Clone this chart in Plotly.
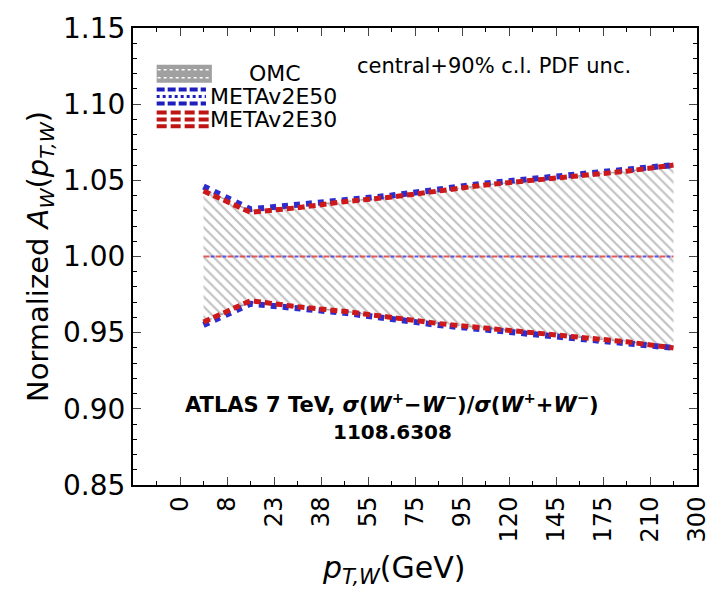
import plotly.graph_objects as go

# pT,W bin edges (GeV), shown as equally spaced category ticks
pt_edges = ["0", "8", "23", "38", "55", "75", "95", "120", "145", "175", "210", "300"]

# normalized asymmetry band limits per bin (11 bins)
omc_up = [1.044, 1.030, 1.033, 1.036, 1.039, 1.043, 1.047, 1.050, 1.053, 1.056, 1.059]
omc_lo = [0.957, 0.970, 0.967, 0.964, 0.960, 0.956, 0.953, 0.950, 0.947, 0.944, 0.941]
e50_up = [1.046, 1.031, 1.034, 1.037, 1.040, 1.044, 1.048, 1.051, 1.054, 1.057, 1.060]
e50_lo = [0.955, 0.969, 0.966, 0.963, 0.959, 0.955, 0.952, 0.949, 0.946, 0.943, 0.940]
e30_up = [1.043, 1.029, 1.032, 1.036, 1.039, 1.043, 1.047, 1.050, 1.053, 1.056, 1.060]
e30_lo = [0.957, 0.971, 0.967, 0.964, 0.960, 0.956, 0.953, 0.950, 0.947, 0.944, 0.940]
central = [1.0] * 11

tick_pos = list(range(len(pt_edges)))
x = [i + 0.5 for i in range(len(pt_edges) - 1)]

FONT = "DejaVu Sans, Liberation Sans, sans-serif"
fig = go.Figure()

# OMC hatched band
fig.add_trace(go.Scatter(x=x, y=omc_lo, mode="lines",
                         line=dict(color="rgba(150,150,150,0.8)", width=1.5, dash="dash"),
                         showlegend=False, hoverinfo="skip"))
fig.add_trace(go.Scatter(x=x, y=omc_up, mode="lines", fill="tonexty",
                         fillcolor="rgba(255,255,255,0)",
                         fillpattern=dict(shape="\\", fgcolor="rgb(130,130,130)",
                                          bgcolor="rgba(255,255,255,0)", size=7, solidity=0.3),
                         line=dict(color="rgba(150,150,150,0.8)", width=1.5, dash="dash"),
                         showlegend=False, hoverinfo="skip"))

# METAv2E50 edges (blue)
for ys in (e50_up, e50_lo):
    fig.add_trace(go.Scatter(x=x, y=ys, mode="lines",
                             line=dict(color="rgb(45,45,205)", width=6, dash="dot"),
                             showlegend=False, hoverinfo="skip"))
# METAv2E30 edges (red)
for ys in (e30_up, e30_lo):
    fig.add_trace(go.Scatter(x=x, y=ys, mode="lines",
                             line=dict(color="rgb(205,25,25)", width=5, dash="7px,4px"),
                             showlegend=False, hoverinfo="skip"))

# central values
fig.add_trace(go.Scatter(x=x, y=central, mode="lines",
                         line=dict(color="rgba(220,60,60,0.85)", width=2, dash="6px,6px"),
                         showlegend=False, hoverinfo="skip"))
fig.add_trace(go.Scatter(x=x, y=central, mode="lines",
                         line=dict(color="rgba(60,60,220,0.85)", width=2, dash="0px,7px,4px,1px"),
                         showlegend=False, hoverinfo="skip"))

# legend swatches drawn in paper space
def px(xp):
    return (xp - 133) / (705 - 133)

def py(yp):
    return (485 - yp) / (485 - 25)

shapes = []
shapes.append(dict(type="rect", xref="paper", yref="paper", x0=px(157), x1=px(213),
                   y0=py(80), y1=py(62), fillcolor="rgb(160,160,160)", line=dict(width=0)))
for yy in (67, 75):
    shapes.append(dict(type="line", xref="paper", yref="paper", x0=px(158), x1=px(212),
                       y0=py(yy), y1=py(yy), line=dict(color="white", width=1.5, dash="dot")))
for yy in (87, 101):
    shapes.append(dict(type="line", xref="paper", yref="paper", x0=px(157), x1=px(207),
                       y0=py(yy), y1=py(yy), line=dict(color="rgb(30,30,190)", width=4, dash="8px,3px")))
shapes.append(dict(type="line", xref="paper", yref="paper", x0=px(157), x1=px(207),
                   y0=py(94), y1=py(94), line=dict(color="rgb(30,30,190)", width=3, dash="dot")))
for yy in (110, 117, 124):
    shapes.append(dict(type="line", xref="paper", yref="paper", x0=px(157), x1=px(210),
                       y0=py(yy), y1=py(yy), line=dict(color="rgb(190,20,20)", width=4, dash="10px,4px")))

annotations = [
    dict(text="OMC", xref="paper", yref="paper", x=px(277), y=py(71), xanchor="center",
         yanchor="middle", showarrow=False, font=dict(family=FONT, size=22, color="black")),
    dict(text="METAv2E50", xref="paper", yref="paper", x=px(209), y=py(94), xanchor="left",
         yanchor="middle", showarrow=False, font=dict(family=FONT, size=22, color="black")),
    dict(text="METAv2E30", xref="paper", yref="paper", x=px(209), y=py(117), xanchor="left",
         yanchor="middle", showarrow=False, font=dict(family=FONT, size=22, color="black")),
    dict(text="central+90% c.l. PDF unc.", xref="paper", yref="paper", x=px(499), y=py(63),
         xanchor="center", yanchor="middle", showarrow=False,
         font=dict(family=FONT, size=21, color="black")),
    dict(text="<b>ATLAS 7 TeV, <i>σ</i>(<i>W</i><sup>+</sup>−<i>W</i><sup>−</sup>)/<i>σ</i>(<i>W</i><sup>+</sup>+<i>W</i><sup>−</sup>)</b>",
         xref="paper", yref="paper", x=px(396), y=py(402), xanchor="center", yanchor="middle",
         showarrow=False, font=dict(family=FONT, size=21, color="black")),
    dict(text="<b>1108.6308</b>", xref="paper", yref="paper", x=px(396), y=py(432),
         xanchor="center", yanchor="middle", showarrow=False,
         font=dict(family=FONT, size=20, color="black")),
    dict(text="<i>p</i><sub><i>T,W</i></sub>(GeV)", xref="paper", yref="paper",
         x=px(397), y=py(570), xanchor="center", yanchor="middle", showarrow=False,
         font=dict(family=FONT, size=30, color="black")),
    dict(text="1.4", xref="paper", yref="paper", x=px(82), y=py(589), xanchor="center",
         yanchor="top", showarrow=False, font=dict(family=FONT, size=28, color="black")),
]

fig.update_layout(
    width=723, height=594,
    margin=dict(l=133, r=18, t=25, b=109),
    paper_bgcolor="white", plot_bgcolor="white",
    shapes=shapes, annotations=annotations,
    font=dict(family=FONT, color="black"),
    xaxis=dict(range=[-1, 11], tickmode="array", tickvals=tick_pos, ticktext=pt_edges,
               tickangle=-90, tickfont=dict(size=24), ticks="inside", ticklen=8,
               showline=True, linecolor="black", linewidth=2, mirror="ticks",
               showgrid=False, zeroline=False,
               minor=dict(ticks="inside", ticklen=4, dtick=0.5, tick0=0, tickcolor="black")),
    yaxis=dict(range=[0.85, 1.15], tickmode="array",
               tickvals=[0.85, 0.90, 0.95, 1.00, 1.05, 1.10, 1.15],
               ticktext=["0.85", "0.90", "0.95", "1.00", "1.05", "1.10", "1.15"],
               tickfont=dict(size=28), ticks="inside", ticklen=8,
               showline=True, linecolor="black", linewidth=2, mirror="ticks",
               showgrid=False, zeroline=False,
               minor=dict(ticks="inside", ticklen=4, dtick=0.01, tickcolor="black"),
               title=dict(text="Normalized <i>A</i><sub><i>W</i></sub>(<i>p</i><sub><i>T,W</i></sub>)",
                          font=dict(size=29), standoff=6)),
)

fig.write_html("out.html")
